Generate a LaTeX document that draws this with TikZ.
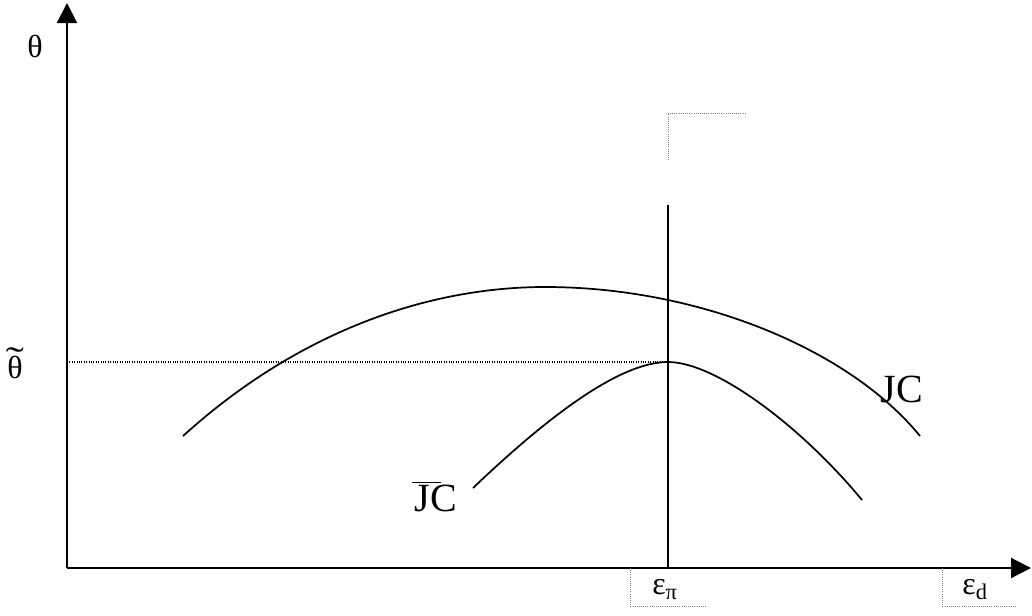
\documentclass[tikz,border=0pt]{standalone}
\usepackage{fontspec}
\setmainfont{Liberation Serif}
\usetikzlibrary{arrows.meta,positioning}

\begin{document}
\begin{tikzpicture}[
  x=0.75pt, y=-0.75pt,
  axis/.style={line width=1.6pt, -{Triangle[length=15pt, width=15pt]}},
  curve/.style={line width=1.3pt},
  guide/.style={densely dotted, gray, line width=0.6pt},
  lbl/.style={font=\fontsize{24}{26}\selectfont, inner sep=0pt},
  jclbl/.style={font=\fontsize{30}{32}\selectfont, inner sep=0pt}]
\useasboundingbox (0,0) rectangle (1032,615);
% axes
\coordinate (origin) at (67,568);
\draw[axis] (origin) -- (67,3);
\draw[axis] (origin) -- (1031,568);
\node[lbl] (theta) at (35,46) {θ};
\node[lbl, anchor=base] (thetatilde) at (15,378)
  {\ooalign{θ\cr\hidewidth\raisebox{0.2em}{\scalebox{1.7}[1.1]{\char"02DC}}\hidewidth\cr}};
% reference lines
\draw[densely dotted, line width=0.8pt] (67,362) -- (668,362);
\draw[line width=1.6pt] (668,205) -- (668,568);
\draw[guide] (668,160) -- (668,113) -- (746,113);
% curves
\draw[curve] (183,436) .. controls (300,330) and (430,287) .. (545,287)
  .. controls (700,287) and (850,350) .. (920,436);
\draw[curve] (473,488) .. controls (560,405) and (625,362) .. (668,362)
  .. controls (715,362) and (800,425) .. (862,500);
\node[jclbl] (jcupper) at (902,389) {JC};
\node[jclbl] (jclower) at (436,497) {J\rlap{\hspace{-0.45em}\rule[0.72em]{0.72em}{0.6pt}}C};
% axis labels
\draw[guide] (630,568) -- (630,606) -- (707,606);
\node[lbl] (epspi) at (665,590) {ε\textsubscript{π}};
\draw[guide] (942,568) -- (942,606) -- (1017,606);
\node[lbl] (epsd) at (975,590) {ε\textsubscript{d}};
\end{tikzpicture}
\end{document}
